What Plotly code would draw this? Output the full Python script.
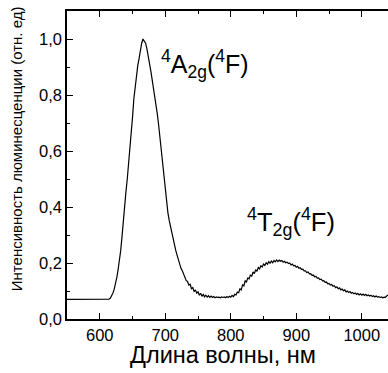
import plotly.graph_objects as go

# Wavelength grid (nm), 2 nm step from 550 to 1040
wl_start = 550
wl_step = 2

intensity = [
    0.070, 0.070, 0.071, 0.070, 0.070, 0.070, 0.071, 0.070, 0.070, 0.070,  # 550
    0.070, 0.071, 0.070, 0.070, 0.070, 0.070, 0.071, 0.070, 0.070, 0.070,  # 570
    0.070, 0.070, 0.071, 0.070, 0.070, 0.070, 0.070, 0.071, 0.070, 0.070,  # 590
    0.070, 0.070, 0.071, 0.074, 0.082, 0.092, 0.106, 0.125, 0.148, 0.176,  # 610
    0.205, 0.245, 0.295, 0.355, 0.410, 0.455, 0.500, 0.550, 0.605, 0.660,  # 630
    0.720, 0.785, 0.830, 0.870, 0.905, 0.930, 0.960, 0.985, 1.000, 0.992,  # 650
    0.985, 0.965, 0.942, 0.915, 0.885, 0.855, 0.825, 0.800, 0.770, 0.730,  # 670
    0.690, 0.645, 0.600, 0.545, 0.500, 0.455, 0.410, 0.380, 0.352, 0.328,  # 690
    0.312, 0.290, 0.268, 0.245, 0.228, 0.210, 0.196, 0.181, 0.172, 0.158,  # 710
    0.150, 0.137, 0.134, 0.121, 0.124, 0.108, 0.112, 0.098, 0.104, 0.092,  # 730
    0.097, 0.085, 0.092, 0.081, 0.088, 0.079, 0.085, 0.078, 0.083, 0.077,  # 750
    0.082, 0.077, 0.080, 0.076, 0.079, 0.077, 0.078, 0.076, 0.079, 0.077,  # 770
    0.079, 0.076, 0.080, 0.077, 0.081, 0.078, 0.084, 0.080, 0.088, 0.086,  # 790
    0.096, 0.094, 0.108, 0.104, 0.122, 0.118, 0.136, 0.132, 0.148, 0.143,  # 810
    0.158, 0.152, 0.168, 0.162, 0.176, 0.170, 0.184, 0.179, 0.190, 0.186,  # 830
    0.196, 0.191, 0.201, 0.196, 0.205, 0.199, 0.207, 0.201, 0.209, 0.204,  # 850
    0.211, 0.205, 0.210, 0.206, 0.209, 0.203, 0.206, 0.201, 0.203, 0.198,  # 870
    0.200, 0.193, 0.196, 0.190, 0.191, 0.185, 0.188, 0.181, 0.183, 0.177,  # 890
    0.178, 0.172, 0.172, 0.166, 0.168, 0.161, 0.162, 0.156, 0.157, 0.151,  # 910
    0.152, 0.146, 0.147, 0.141, 0.142, 0.136, 0.137, 0.131, 0.132, 0.126,  # 930
    0.127, 0.121, 0.123, 0.117, 0.119, 0.112, 0.115, 0.108, 0.111, 0.104,  # 950
    0.107, 0.101, 0.104, 0.097, 0.100, 0.095, 0.098, 0.092, 0.095, 0.090,  # 970
    0.093, 0.088, 0.091, 0.086, 0.090, 0.085, 0.089, 0.084, 0.088, 0.083,  # 990
    0.086, 0.082, 0.085, 0.080, 0.083, 0.079, 0.082, 0.078, 0.080, 0.077,  # 1010
    0.079, 0.076, 0.078, 0.077, 0.082, 0.086,                              # 1030
]
wavelength = [wl_start + wl_step * i for i in range(len(intensity))]

x_tick_vals = [600, 700, 800, 900, 1000]
x_tick_text = ["600", "700", "800", "900", "1000"]
y_tick_vals = [0.0, 0.2, 0.4, 0.6, 0.8, 1.0]
y_tick_text = ["0,0", "0,2", "0,4", "0,6", "0,8", "1,0"]

x_title = "Длина волны, нм"
y_title = "Интенсивность люминесценции (отн. ед)"
label_a = "<sup>4</sup>A<sub>2g</sub>(<sup>4</sup>F)"
label_t = "<sup>4</sup>T<sub>2g</sub>(<sup>4</sup>F)"

fig = go.Figure()
fig.add_trace(go.Scatter(
    x=wavelength, y=intensity, mode="lines",
    line=dict(color="black", width=1.2),
    showlegend=False, hoverinfo="skip",
))

axis_common = dict(
    showline=True, linecolor="black", linewidth=1.5,
    ticks="inside", tickcolor="black", ticklen=6, tickwidth=1,
    showgrid=False, zeroline=False, automargin=False,
    tickfont=dict(family="Arial", size=16.5, color="black"),
)

fig.update_xaxes(
    range=[550, 1040], tickvals=x_tick_vals, ticktext=x_tick_text,
    mirror="allticks",
    minor=dict(ticks="inside", ticklen=3, tickcolor="black", dtick=50, tick0=550, showgrid=False),
    **axis_common,
)
fig.update_yaxes(
    range=[0, 1.1], tickvals=y_tick_vals, ticktext=y_tick_text,
    mirror=False,
    minor=dict(ticks="inside", ticklen=3, tickcolor="black", dtick=0.1, tick0=0, showgrid=False),
    **axis_common,
)

fig.update_layout(
    width=388, height=373,
    margin=dict(l=67, r=0, t=11, b=54, autoexpand=False),
    paper_bgcolor="white", plot_bgcolor="white",
    font=dict(family="Arial", color="black"),
    annotations=[
        dict(text=x_title, xref="paper", yref="paper", x=0.485, y=-0.117,
             xanchor="center", yanchor="middle", showarrow=False,
             font=dict(family="Arial", size=23.5, color="black")),
        dict(text=y_title, xref="paper", yref="paper", x=-0.155, y=0.552,
             xanchor="center", yanchor="middle", showarrow=False, textangle=-90,
             font=dict(family="Arial", size=15, color="black")),
        dict(text=label_a, xref="x", yref="y", x=691, y=0.91,
             xanchor="left", yanchor="middle", showarrow=False,
             font=dict(family="Arial", size=25, color="black")),
        dict(text=label_t, xref="x", yref="y", x=822, y=0.345,
             xanchor="left", yanchor="middle", showarrow=False,
             font=dict(family="Arial", size=25.5, color="black")),
    ],
)

fig.write_html("out.html", config={"displayModeBar": False},
               post_script="document.body.style.margin='0';document.body.style.overflow='hidden';")
